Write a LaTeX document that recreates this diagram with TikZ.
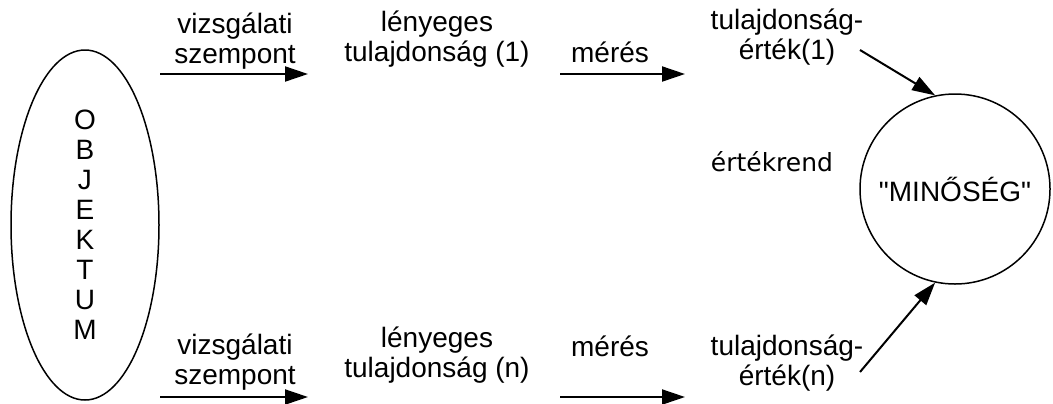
\documentclass[tikz,border=0pt]{standalone}
\usepackage{fontspec}
\setmainfont{Liberation Sans}[Ligatures=TeXOff]
\newfontfamily\dvfont{DejaVu Sans}[Ligatures=TeXOff]
\usetikzlibrary{arrows.meta,shapes.geometric}
\begin{document}
\begin{tikzpicture}[x=0.5pt,y=-0.5pt,
  lbl/.style={align=center,font=\fontsize{14}{15}\selectfont,inner sep=0pt},
  arr/.style={line width=1pt,-{Triangle[length=11.5pt,width=7.5pt]}}]
\useasboundingbox (0,0) rectangle (1053,403);
\node[ellipse,draw,line width=0.75pt,minimum width=74pt,minimum height=175pt,inner sep=0pt,align=center,font=\fontsize{14}{15}\selectfont] (obj) at (85,225) {O\\B\\J\\E\\K\\T\\U\\M};
\node[circle,draw,line width=0.75pt,minimum size=95pt,inner sep=0pt,font=\fontsize{14}{15}\selectfont] (q) at (955,189) {"MINŐSÉG"};
\node[lbl] (vt) at (235,41) {vizsgálati\\szempont};
\node[lbl] (vb) at (235,362) {vizsgálati\\szempont};
\node[lbl] (lt) at (437,39) {lényeges\\tulajdonság (1)};
\node[lbl] (lb) at (437,355) {lényeges\\tulajdonság (n)};
\node[lbl] (mt) at (610,52) {mérés};
\node[lbl] (mb) at (610,346) {mérés};
\node[lbl] (tt) at (787,37) {tulajdonság-\\érték(1)};
\node[lbl] (tb) at (787,363) {tulajdonság-\\érték(n)};
\node[lbl,font=\dvfont\fontsize{12.5}{15}\selectfont] (er) at (772,162) {értékrend};
\coordinate (a1s) at (160,74); \coordinate (a1e) at (308,74);
\coordinate (a2s) at (560,74); \coordinate (a2e) at (685,74);
\coordinate (b1s) at (160,397); \coordinate (b1e) at (308,397);
\coordinate (b2s) at (560,397); \coordinate (b2e) at (685,397);
\coordinate (d1s) at (860,50); \coordinate (d2s) at (860,372);
\draw[arr] (a1s) -- (a1e);
\draw[arr] (a2s) -- (a2e);
\draw[arr] (b1s) -- (b1e);
\draw[arr] (b2s) -- (b2e);
\draw[arr] (d1s) -- (q.102);
\draw[arr] (d2s) -- (q.258);
\end{tikzpicture}
\end{document}
